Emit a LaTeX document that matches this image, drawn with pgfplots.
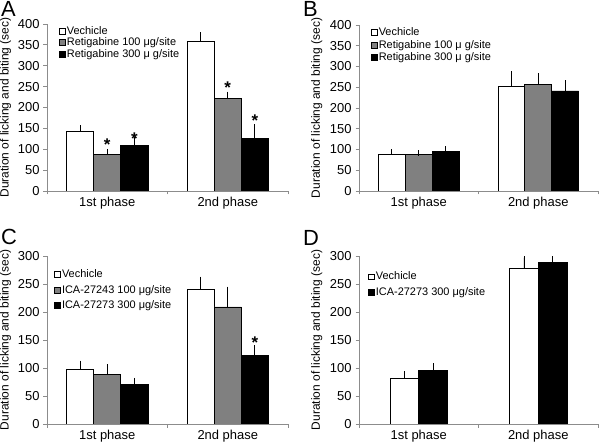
\documentclass[border=0pt]{standalone}
\usepackage{pgfplots}
\pgfplotsset{compat=1.18}
\usepackage{fontspec}
\setmainfont{Liberation Sans}
\definecolor{axgray}{HTML}{8C8C8C}
\definecolor{bargray}{HTML}{808080}
\pgfplotsset{
  panel/.style={
    scale only axis, anchor=south west,
    /pgf/number format/assume math mode=true,
    axis x line*=bottom, axis y line*=left,
    axis line style={axgray, line width=0.8bp},
    xmin=-0.5, xmax=1.5, ymin=0,
    xtick={-0.5,0.5,1.5}, xticklabels={},
    extra x ticks={0,1}, extra x tick labels={1st phase,2nd phase},
    extra x tick style={major tick length=0pt},
    tick align=outside, major tick length=3.5bp,
    tick style={axgray, line width=0.8bp},
    ytick distance=50,
    y tick label style={font=\fontsize{13}{13}\selectfont, xshift=-0.5bp},
    x tick label style={font=\fontsize{13}{13}\selectfont, yshift=-2.5bp},
    ylabel={Duration of licking and biting (sec)},
    every axis y label/.style={at={(axis description cs:-0.172,0.5)}, rotate=90, anchor=center,
      font=\fontsize{12}{12}\selectfont},
    legend cell align=left,
    legend style={draw=none, fill=none, anchor=north west, inner sep=0pt,
      font=\fontsize{11}{12}\selectfont, nodes={inner sep=1bp}},
  },
  mybar/.style={ybar, bar width=0.225, bar shift=0pt, draw=black, line width=0.8bp,
    error bars/y dir=plus, error bars/y explicit,
    error bars/error bar style={black, line width=0.8bp},
    error bars/error mark options={black, line width=0.8bp, mark size=3bp}},
  lw/.style={legend image code/.code={\draw[fill=white, draw=black, line width=0.6bp] (0bp,-2.8bp) rectangle (5.6bp,2.8bp);}},
  lg/.style={legend image code/.code={\draw[fill=bargray, draw=black, line width=0.6bp] (0bp,-3bp) rectangle (6bp,3bp);}},
  lb/.style={legend image code/.code={\draw[fill=black, draw=black, line width=0.6bp] (0bp,-3bp) rectangle (6bp,3bp);}},
  star/.style={draw=none, mark=none, forget plot, nodes near coords={*},
    every node near coord/.append style={font=\fontsize{17}{17}\selectfont\bfseries, anchor=center, inner sep=0pt}},
}
\begin{document}
\begin{tikzpicture}
\useasboundingbox (0bp,0bp) rectangle (600bp,448bp);
% Panel A
\begin{axis}[panel, at={(47bp,257bp)}, width=241bp, height=167bp, ymax=400,
  legend style={at={(axis description cs:0.05,0.993)}, row sep=0bp}]
\addplot[mybar, fill=white, lw] coordinates {(-0.225,142) +- (0,8) (0.775,358) +- (0,15)};
\addlegendentry{Vechicle}
\addplot[mybar, fill=bargray, lg] coordinates {(0,87) +- (0,7) (1,221) +- (0,10)};
\addlegendentry{Retigabine 100 μg/site}
\addplot[mybar, fill=black, lb] coordinates {(0.225,109) +- (0,14) (1.225,126) +- (0,27)};
\addlegendentry{Retigabine 300 μ g/site}
\addplot[star] coordinates {(0,111) (0.225,126) (1,247) (1.225,168)};
\end{axis}
% Panel B
\begin{axis}[panel, at={(359bp,257bp)}, width=239bp, height=166bp, ymax=400,
  every axis y label/.append style={at={(axis description cs:-0.177,0.5)}},
  legend style={at={(axis description cs:0.05,0.99)}, row sep=1bp}]
\addplot[mybar, fill=white, lw] coordinates {(-0.225,88) +- (0,5) (0.775,251) +- (0,30)};
\addlegendentry{Vechicle}
\addplot[mybar, fill=bargray, lg] coordinates {(0,87) +- (0,4) (1,257) +- (0,19)};
\addlegendentry{Retigabine 100 μ g/site}
\addplot[mybar, fill=black, lb] coordinates {(0.225,96) +- (0,5) (1.225,241) +- (0,19)};
\addlegendentry{Retigabine 300 μ g/site}
\end{axis}
% Panel C
\begin{axis}[panel, at={(47bp,24bp)}, width=241bp, height=168bp, ymax=300,
  legend style={at={(axis description cs:0.03,0.925)}, row sep=4bp}]
\addplot[mybar, fill=white, lw] coordinates {(-0.225,98) +- (0,10) (0.775,240) +- (0,18)};
\addlegendentry{Vechicle}
\addplot[mybar, fill=bargray, lg] coordinates {(0,89) +- (0,12) (1,209) +- (0,31)};
\addlegendentry{ICA-27243 100 μg/site}
\addplot[mybar, fill=black, lb] coordinates {(0.225,70) +- (0,7) (1.225,122) +- (0,13)};
\addlegendentry{ICA-27273 300 μg/site}
\addplot[star] coordinates {(1.225,145)};
\end{axis}
% Panel D
\begin{axis}[panel, at={(359bp,24bp)}, width=239bp, height=168bp, ymax=300,
  every axis y label/.append style={at={(axis description cs:-0.177,0.5)}},
  legend style={at={(axis description cs:0.038,0.912)}, row sep=4bp}]
\addplot[mybar, bar width=0.24, fill=white, lw] coordinates {(-0.12,81) +- (0,8) (0.88,278) +- (0,19)};
\addlegendentry{Vechicle}
\addplot[mybar, bar width=0.24, fill=black, lb] coordinates {(0.12,95) +- (0,8) (1.12,289) +- (0,9)};
\addlegendentry{ICA-27273 300 μg/site}
\end{axis}
% Panel letters
\node[anchor=north west, inner sep=0pt, font=\fontsize{22}{22}\selectfont] at (1bp,447bp) {A};
\node[anchor=north west, inner sep=0pt, font=\fontsize{22}{22}\selectfont] at (303bp,447bp) {B};
\node[anchor=north west, inner sep=0pt, font=\fontsize{22}{22}\selectfont] at (1bp,219bp) {C};
\node[anchor=north west, inner sep=0pt, font=\fontsize{22}{22}\selectfont] at (303bp,218bp) {D};
\end{tikzpicture}
\end{document}
